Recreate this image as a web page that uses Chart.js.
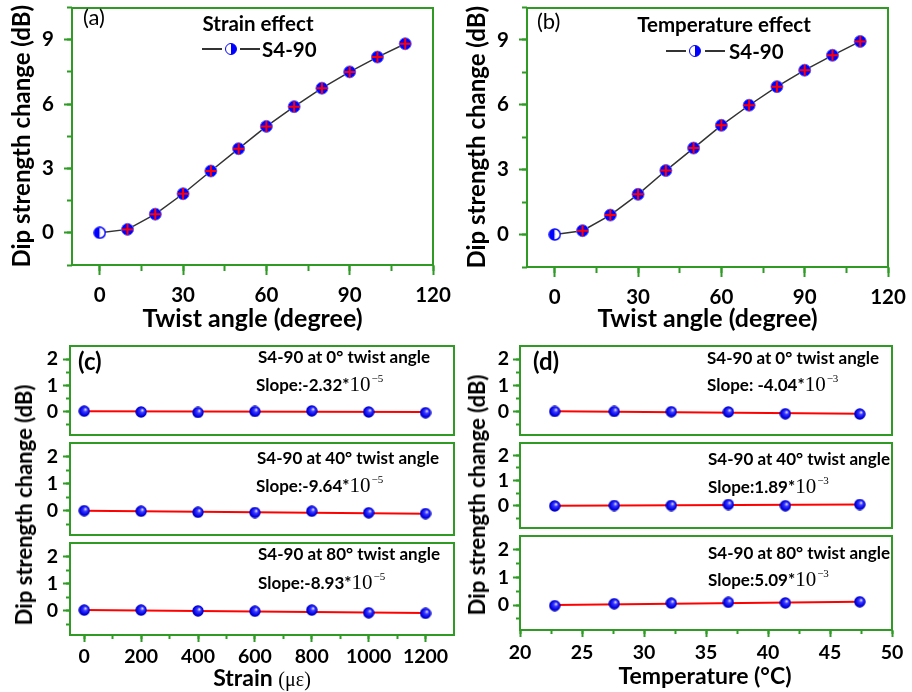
<!DOCTYPE html>
<html><head><meta charset="utf-8">
<script src="https://cdn.jsdelivr.net/npm/chart.js@4.4.0/dist/chart.umd.min.js"></script>
<style>
html,body{margin:0;padding:0;background:#fff;}
#root{position:relative;width:912px;height:692px;overflow:hidden;background:#fff;font-family:Lato,"Open Sans",sans-serif;color:#000;}
.pane{position:absolute;}
.pane canvas{display:block;}
.t{position:absolute;white-space:nowrap;line-height:1;transform:translateY(-50%);}
.b{font-weight:700;}
.ann{font-size:17px;font-weight:700;}
.ser{font-family:"Liberation Serif","DejaVu Serif",serif;font-weight:400;}
.ten{font-size:21px;}
.sup{font-size:11px;position:relative;top:-9px;margin-left:1px;}
.rot{position:absolute;white-space:nowrap;line-height:1;transform:translate(-50%,-50%) rotate(-90deg);font-weight:700;}
.ctr{transform:translate(-50%,-50%);}
.lg{position:absolute;height:2px;background:#333;}
.mk{position:absolute;width:12px;height:12px;border-radius:50%;box-sizing:border-box;border:1.5px solid #0000ff;background:linear-gradient(to right,#fff 50%,#0000ff 50%);transform:translate(-50%,-50%);}
</style></head>
<body><div id="root">
  <div class="pane" style="left:0;top:0;width:452px;height:340px"><canvas id="ca"></canvas></div>
  <div class="pane" style="left:455px;top:0;width:457px;height:340px"><canvas id="cb"></canvas></div>
  <div class="pane" style="left:0;top:340px;width:460px;height:101px"><canvas id="cc1"></canvas></div>
  <div class="pane" style="left:0;top:437px;width:460px;height:104px"><canvas id="cc2"></canvas></div>
  <div class="pane" style="left:0;top:537px;width:460px;height:155px"><canvas id="cc3"></canvas></div>
  <div class="pane" style="left:455px;top:340px;width:457px;height:101px"><canvas id="cd1"></canvas></div>
  <div class="pane" style="left:455px;top:437px;width:457px;height:97px"><canvas id="cd2"></canvas></div>
  <div class="pane" style="left:455px;top:530px;width:457px;height:162px"><canvas id="cd3"></canvas></div>

  <!-- panel a annotations -->
  <div class="t" style="left:83px;top:17px;font-size:22px;">(a)</div>
  <div class="t b ctr" style="left:258px;top:23px;font-size:20.5px;">Strain effect</div>
  <div class="lg" style="left:202px;top:48px;width:20px"></div>
  <div class="mk" style="left:231px;top:49px"></div>
  <div class="lg" style="left:240px;top:48px;width:20px"></div>
  <div class="t b" style="left:262px;top:49px;font-size:20.5px;">S4-90</div>

  <!-- panel b annotations -->
  <div class="t" style="left:537px;top:21px;font-size:22px;">(b)</div>
  <div class="t b ctr" style="left:724px;top:24px;font-size:20.5px;">Temperature effect</div>
  <div class="lg" style="left:666px;top:50px;width:20px"></div>
  <div class="mk" style="left:695px;top:51px"></div>
  <div class="lg" style="left:705px;top:50px;width:20px"></div>
  <div class="t b" style="left:729px;top:51px;font-size:20.5px;">S4-90</div>

  <!-- panel c annotations -->
  <div class="t b" style="left:78px;top:361px;font-size:24px;">(c)</div>
  <div class="t ann" style="left:258px;top:356px;">S4-90 at 0° twist angle</div>
  <div class="t ann" style="left:256px;top:384px;">Slope:-2.32*<span class="ser ten">10</span><span class="ser sup">−5</span></div>
  <div class="t ann" style="left:257px;top:457px;">S4-90 at 40° twist angle</div>
  <div class="t ann" style="left:256px;top:485px;">Slope:-9.64*<span class="ser ten">10</span><span class="ser sup">−5</span></div>
  <div class="t ann" style="left:258px;top:553px;">S4-90 at 80° twist angle</div>
  <div class="t ann" style="left:258px;top:582px;">Slope:-8.93*<span class="ser ten">10</span><span class="ser sup">−5</span></div>
  <div class="rot" style="left:24px;top:505px;font-size:22px;">Dip strength change (dB)</div>
  <div class="t b ctr" style="left:262px;top:677px;font-size:23px;">Strain <span class="ser" style="font-size:20px">(με)</span></div>

  <!-- panel d annotations -->
  <div class="t b" style="left:533px;top:361px;font-size:24px;">(d)</div>
  <div class="t ann" style="left:707px;top:357px;">S4-90 at 0° twist angle</div>
  <div class="t ann" style="left:707px;top:384px;">Slope: -4.04*<span class="ser ten">10</span><span class="ser sup">−3</span></div>
  <div class="t ann" style="left:708px;top:458px;">S4-90 at 40° twist angle</div>
  <div class="t ann" style="left:708px;top:486px;">Slope:1.89*<span class="ser ten">10</span><span class="ser sup">−3</span></div>
  <div class="t ann" style="left:708px;top:552px;">S4-90 at 80° twist angle</div>
  <div class="t ann" style="left:708px;top:579px;">Slope:5.09*<span class="ser ten">10</span><span class="ser sup">−3</span></div>
  <div class="rot" style="left:477px;top:495px;font-size:22px;">Dip strength change (dB)</div>
  <div class="t b ctr" style="left:705px;top:675px;font-size:23px;">Temperature (°C)</div>
</div>
<script>
// ---------------- data ----------------
const twistAngles = [0, 10, 20, 30, 40, 50, 60, 70, 80, 90, 100, 110];
const strainEffectDip = [0, 0.16, 0.87, 1.82, 2.88, 3.92, 4.96, 5.88, 6.74, 7.5, 8.19, 8.81];
const tempEffectDip = [0, 0.18, 0.9, 1.86, 2.96, 4.0, 5.05, 5.98, 6.84, 7.6, 8.29, 8.93];

const strainValues = [0, 200, 400, 600, 800, 1000, 1200];
const strainDip0 = [0.01, -0.02, -0.04, 0.0, 0.02, -0.02, -0.05];
const strainDip40 = [0.0, -0.02, -0.06, -0.07, -0.02, -0.08, -0.11];
const strainDip80 = [0.02, 0.02, -0.01, -0.02, 0.02, -0.08, -0.1];
const strainFitX = [0, 1200];
const strainFit0 = [0.005, -0.023];
const strainFit40 = [0.0, -0.115];
const strainFit80 = [0.02, -0.09];

const temperatures = [22.8, 27.6, 32.2, 36.8, 41.4, 47.4];
const tempDip0 = [0.0, 0.0, -0.01, -0.02, -0.09, -0.1];
const tempDip40 = [-0.02, 0.0, 0.0, 0.04, -0.01, 0.04];
const tempDip80 = [-0.02, 0.05, 0.07, 0.1, 0.08, 0.12];
const tempFitX = [22.8, 47.4];
const tempFit0 = [0.01, -0.09];
const tempFit40 = [-0.01, 0.04];
const tempFit80 = [0.0, 0.125];

const twistXTicks = [0, 30, 60, 90, 120];
const twistXMinor = [0, 15, 30, 45, 60, 75, 90, 105, 120];
const dipYTicks = [0, 3, 6, 9];
const dipYMinor = [-1.5, 0, 1.5, 3, 4.5, 6, 7.5, 9, 10.5];
const strainXTicks = [0, 200, 400, 600, 800, 1000, 1200];
const strainXMinor = [0, 100, 200, 300, 400, 500, 600, 700, 800, 900, 1000, 1100, 1200];
const tempXTicks = [20, 25, 30, 35, 40, 45, 50];
const tempXMinor = [20, 22.5, 25, 27.5, 30, 32.5, 35, 37.5, 40, 42.5, 45, 47.5, 50];
const smallYTicks = [0, 1, 2];
const smallYMinor = [-0.5, 0, 0.5, 1, 1.5, 2];

// ---------------- styling helpers ----------------
const GREEN = '#2f9a24';
const TITLEFONT = {family: 'Lato', size: 25, weight: '700'};
const YTITLEFONT = {family: 'Lato', size: 24, weight: '700'};

function halfMarker(size) {
  const c = document.createElement('canvas'); c.width = c.height = size;
  const g = c.getContext('2d'); const r = size / 2;
  g.beginPath(); g.arc(r, r, r - 1, Math.PI / 2, Math.PI * 1.5); g.closePath(); g.fillStyle = '#0000ff'; g.fill();
  g.beginPath(); g.arc(r, r, r - 1, -Math.PI / 2, Math.PI / 2); g.closePath(); g.fillStyle = '#ffffff'; g.fill();
  g.beginPath(); g.arc(r, r, r - 1, 0, Math.PI * 2); g.strokeStyle = '#0000ff'; g.lineWidth = 1.5; g.stroke();
  return c;
}
function sphere(size) {
  const c = document.createElement('canvas'); c.width = c.height = size;
  const g = c.getContext('2d'); const r = size / 2;
  const grd = g.createRadialGradient(r * 1.25, r * 0.7, 0.3, r, r, r);
  grd.addColorStop(0, '#e0e0ff'); grd.addColorStop(0.3, '#3a3aff');
  grd.addColorStop(0.75, '#0000e6'); grd.addColorStop(1, '#00009a');
  g.beginPath(); g.arc(r, r, r - 0.3, 0, Math.PI * 2); g.fillStyle = grd; g.fill();
  return c;
}
const HALF = halfMarker(13);
const SPHERE = sphere(12);

const setTicks = arr => s => { s.ticks = arr.map(v => ({value: v})); };
const noPad = s => { s.paddingTop = 0; s.paddingBottom = 0; s.paddingLeft = 0; s.paddingRight = 0; };
const plainNum = v => String(v);

function frameAxis(pos) {
  return {
    type: 'linear', position: pos, min: 0, max: 1,
    afterFit: s => { if (pos === 'top') s.height = 0; else s.width = 0; noPad(s); },
    grid: {drawOnChartArea: false, drawTicks: false},
    border: {color: GREEN, width: 2},
    ticks: {display: false}
  };
}

function makePanel(id, o) {
  const tickFont = {family: 'Lato', size: o.fs, weight: '700'};
  const scales = {
    x: {
      type: 'linear', position: 'bottom', weight: 2, min: o.xr[0], max: o.xr[1],
      afterBuildTicks: setTicks(o.xMajor),
      afterFit: s => { s.height = o.xH; noPad(s); },
      grid: {drawOnChartArea: false, drawTicks: !!o.showX, tickLength: o.xMaj, tickColor: GREEN, tickWidth: 2},
      border: {color: GREEN, width: 2},
      ticks: {display: !!o.showX, autoSkip: false, maxRotation: 0, padding: o.xPad, color: '#000', font: tickFont, callback: plainNum},
      title: o.xTitle ? {display: true, text: o.xTitle, color: '#000', font: TITLEFONT, padding: {top: 0, bottom: o.xTitlePad}} : {display: false}
    },
    xm: {
      type: 'linear', position: 'bottom', weight: 1, min: o.xr[0], max: o.xr[1],
      afterBuildTicks: setTicks(o.xMinor),
      afterFit: s => { s.height = 0; noPad(s); },
      grid: {drawOnChartArea: false, drawTicks: !!o.showX, tickLength: o.xMin, tickColor: GREEN, tickWidth: 2},
      border: {display: false},
      ticks: {display: false}
    },
    y: {
      type: 'linear', position: 'left', weight: 2, min: o.yr[0], max: o.yr[1],
      afterBuildTicks: setTicks(o.yMajor),
      afterFit: s => { s.width = o.yW; noPad(s); },
      grid: {drawOnChartArea: false, tickLength: o.yMaj, tickColor: GREEN, tickWidth: 2},
      border: {color: GREEN, width: 2},
      ticks: {autoSkip: false, padding: o.yPad, color: '#000', font: tickFont, callback: plainNum},
      title: o.yTitle ? {display: true, text: o.yTitle, color: '#000', font: YTITLEFONT, padding: {top: o.yTitlePad, bottom: 0}} : {display: false}
    },
    ym: {
      type: 'linear', position: 'left', weight: 1, min: o.yr[0], max: o.yr[1],
      afterBuildTicks: setTicks(o.yMinor),
      afterFit: s => { s.width = 0; noPad(s); },
      grid: {drawOnChartArea: false, tickLength: o.yMin, tickColor: GREEN, tickWidth: 2},
      border: {display: false},
      ticks: {display: false}
    },
    xt: frameAxis('top'),
    yr: frameAxis('right')
  };
  return new Chart(document.getElementById(id), {
    type: 'line',
    data: {datasets: o.datasets},
    options: {
      responsive: true, maintainAspectRatio: false, animation: false, events: [],
      layout: {padding: {top: o.pt, right: o.pr, left: 0, bottom: 0}},
      plugins: {legend: {display: false}, tooltip: {enabled: false}},
      elements: {line: {tension: 0}},
      scales
    }
  });
}

function twistDatasets(vals) {
  const pts = twistAngles.map((x, i) => ({x, y: vals[i]}));
  return [
    {data: pts, showLine: false, order: 0, xAxisID: 'x', yAxisID: 'y',
     pointStyle: 'cross', pointRadius: c => c.dataIndex === 0 ? 0 : 5.5,
     pointBorderColor: '#ff0000', pointBorderWidth: 2},
    {data: pts, order: 1, xAxisID: 'x', yAxisID: 'y', borderColor: '#333', borderWidth: 1.5,
     pointStyle: c => c.dataIndex === 0 ? HALF : 'circle', pointRadius: 6,
     pointBackgroundColor: '#0000ff', pointBorderColor: '#6262ff', pointBorderWidth: 1}
  ];
}
function flatDatasets(xs, vals, fitX, fitY) {
  return [
    {data: xs.map((x, i) => ({x, y: vals[i]})), showLine: false, order: 0, xAxisID: 'x', yAxisID: 'y',
     pointStyle: SPHERE, pointRadius: 5},
    {data: fitX.map((x, i) => ({x, y: fitY[i]})), order: 1, xAxisID: 'x', yAxisID: 'y',
     borderColor: '#ff0000', borderWidth: 2, pointRadius: 0}
  ];
}

const twistCommon = {
  xr: [-10, 120], yr: [-1.5, 10.5], xMajor: twistXTicks, xMinor: twistXMinor,
  yMajor: dipYTicks, yMinor: dipYMinor, showX: true, xMaj: 10, xMin: 6, yMaj: 8, yMin: 5,
  fs: 20.5, xPad: 8, yPad: 10, yW: 72, xTitle: 'Twist angle (degree)', yTitle: 'Dip strength change (dB)',
  xTitlePad: 6, yTitlePad: 8
};
makePanel('ca', Object.assign({}, twistCommon, {datasets: twistDatasets(strainEffectDip), xH: 75, pt: 3, pr: 19}));
makePanel('cb', Object.assign({}, twistCommon, {datasets: twistDatasets(tempEffectDip), xH: 73, pt: 4, pr: 24}));

const smallCommon = {
  yr: [-0.9, 2.5], yMajor: smallYTicks, yMinor: smallYMinor, xMaj: 7, xMin: 4, yMaj: 7, yMin: 4, fs: 19.5
};
const cCommon = Object.assign({}, smallCommon, {xr: [-50, 1300], xMajor: strainXTicks, xMinor: strainXMinor, yW: 70, pr: 5, yPad: 5, xPad: 3});
makePanel('cc1', Object.assign({}, cCommon, {datasets: flatDatasets(strainValues, strainDip0, strainFitX, strainFit0), showX: false, xH: 2, pt: 3}));
makePanel('cc2', Object.assign({}, cCommon, {datasets: flatDatasets(strainValues, strainDip40, strainFitX, strainFit40), showX: false, xH: 2, pt: 2}));
makePanel('cc3', Object.assign({}, cCommon, {datasets: flatDatasets(strainValues, strainDip80, strainFitX, strainFit80), showX: true, xH: 57, pt: 2}));

const dCommon = Object.assign({}, smallCommon, {xr: [20, 50], xMajor: tempXTicks, xMinor: tempXMinor, yW: 65, pr: 20, yPad: 4, xPad: 4});
makePanel('cd1', Object.assign({}, dCommon, {datasets: flatDatasets(temperatures, tempDip0, tempFitX, tempFit0), showX: false, xH: 2, pt: 3}));
makePanel('cd2', Object.assign({}, dCommon, {datasets: flatDatasets(temperatures, tempDip40, tempFitX, tempFit40), showX: false, xH: 2, pt: 2}));
makePanel('cd3', Object.assign({}, dCommon, {datasets: flatDatasets(temperatures, tempDip80, tempFitX, tempFit80), showX: true, xH: 62, pt: 2}));
</script>
</body></html>
